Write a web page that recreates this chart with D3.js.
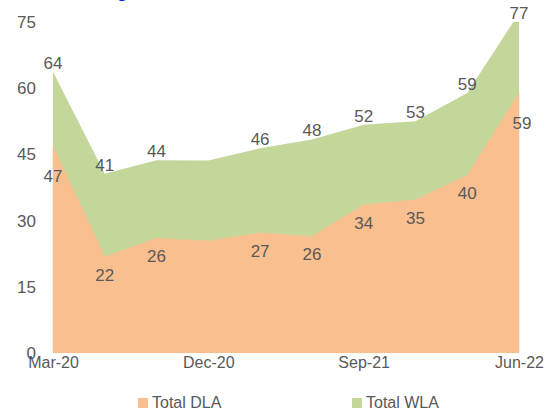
<!DOCTYPE html>
<html>
<head>
<meta charset="utf-8">
<script src="https://cdn.jsdelivr.net/npm/d3@7"></script>
<style>
    body { margin: 0; background: #fff; }
    text { font-family: "Liberation Sans", Arial, sans-serif; fill: #595959; }
</style>
</head>
<body>
<svg></svg>
<script>
const quarters = ["Mar-20", "Jun-20", "Sep-20", "Dec-20", "Mar-21", "Jun-21", "Sep-21", "Dec-21", "Mar-22", "Jun-22"];
const totalDLA = [46.9, 21.8, 26.0, 25.4, 27.2, 26.4, 33.6, 34.7, 40.3, 58.9];
const totalWLA = [63.7, 40.6, 43.7, 43.6, 46.4, 48.4, 51.7, 52.5, 58.9, 77.0];
const dlaLabels = ["47", "22", "26", "", "27", "26", "34", "35", "40", "59"];
const wlaLabels = ["64", "41", "44", "", "46", "48", "52", "53", "59", "77"];
const yTicks = [0, 15, 30, 45, 60, 75];
const xTickLabels = ["Mar-20", "Dec-20", "Sep-21", "Jun-22"];

(function () {
    const width = 550;
    const height = 410;

    const svg = d3.select("svg")
        .attr("width", width)
        .attr("height", height);

    const x = d3.scalePoint()
        .domain(quarters)
        .range([53, 519]);

    const y = d3.scaleLinear()
        .domain([0, 75])
        .range([353, 22]);

    svg.append("clipPath")
        .attr("id", "plot")
        .append("rect")
        .attr("x", 0)
        .attr("y", y(75))
        .attr("width", width)
        .attr("height", y(0) - y(75));

    // cut-off title at the very top
    svg.append("text")
        .attr("x", 117)
        .attr("y", -2)
        .style("fill", "#0033cc")
        .style("font-weight", "bold")
        .style("font-size", "17px")
        .text("g");

    const area = vals => d3.area()
        .x((d, i) => x(quarters[i]))
        .y0(y(0))
        .y1(d => y(d))(vals);

    const plot = svg.append("g").attr("clip-path", "url(#plot)");

    plot.append("path")
        .attr("d", area(totalWLA))
        .attr("fill", "#c4d79b");

    plot.append("path")
        .attr("d", area(totalDLA))
        .attr("fill", "#f9bf8f")
        .attr("stroke", "#f9bf8f")
        .attr("stroke-width", 0.5);

    // data labels
    svg.selectAll(".wla-label")
        .data(totalWLA)
        .enter()
        .append("text")
        .attr("class", "wla-label")
        .attr("x", (d, i) => x(quarters[i]))
        .attr("y", d => y(Math.min(d, 75)) - 3)
        .attr("text-anchor", "middle")
        .style("font-size", "17px")
        .text((d, i) => wlaLabels[i]);

    const last = quarters.length - 1;
    svg.selectAll(".dla-label")
        .data(totalDLA)
        .enter()
        .append("text")
        .attr("class", "dla-label")
        .attr("x", (d, i) => x(quarters[i]) + (i === last ? 3 : 0))
        .attr("y", (d, i) => y(d) + (i === 0 || i === last ? 36 : 24))
        .attr("text-anchor", "middle")
        .style("font-size", "17px")
        .text((d, i) => dlaLabels[i]);

    // y axis
    const yAxis = svg.append("g")
        .attr("transform", "translate(36,0)")
        .call(d3.axisLeft(y).tickValues(yTicks).tickSize(0).tickPadding(0));
    yAxis.select(".domain").remove();
    yAxis.selectAll("text")
        .style("font-size", "17px")
        .style("fill", "#595959")
        .style("font-family", "Liberation Sans, Arial, sans-serif");

    // x axis
    const xAxis = svg.append("g")
        .attr("transform", `translate(0,${y(0)})`)
        .call(d3.axisBottom(x).tickValues(xTickLabels).tickSize(0).tickPadding(4));
    xAxis.select(".domain").remove();
    xAxis.selectAll("text")
        .style("font-size", "16px")
        .style("fill", "#595959")
        .style("font-family", "Liberation Sans, Arial, sans-serif");

    // legend
    const legendItems = [
        { name: "Total DLA", color: "#f9bf8f", x: 138 },
        { name: "Total WLA", color: "#c4d79b", x: 352 }
    ];
    const legend = svg.selectAll(".legend")
        .data(legendItems)
        .enter()
        .append("g")
        .attr("class", "legend")
        .attr("transform", d => `translate(${d.x},398)`);
    legend.append("rect")
        .attr("width", 10)
        .attr("height", 10)
        .attr("fill", d => d.color);
    legend.append("text")
        .attr("x", 14)
        .attr("y", 10)
        .style("font-size", "16px")
        .text(d => d.name);
})();
</script>
</body>
</html>
